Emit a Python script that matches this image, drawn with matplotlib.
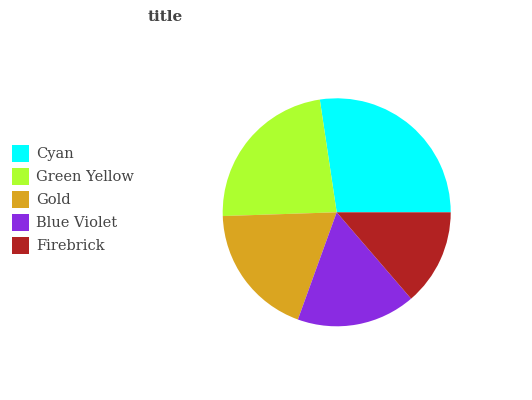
import matplotlib
matplotlib.use("Agg")
import matplotlib.pyplot as plt
from matplotlib.patches import Patch

# slice data
labels = ["Cyan", "Green Yellow", "Gold", "Blue Violet", "Firebrick"]
values = [26, 22, 18, 16, 13]
colors = ["#00ffff", "#adff2f", "#daa520", "#8a2be2", "#b22222"]

plt.rcParams['font.family'] = ['DejaVu Serif']

fig = plt.figure(figsize=(5.32, 4.0), dpi=100)
ax = fig.add_axes([336.7/532 - 114/532, 1 - (212.3 + 114)/400, 228/532, 228/400])
ax.pie(values, colors=colors, startangle=0, counterclock=True,
       wedgeprops=dict(linewidth=0))
ax.set_aspect('equal')
ax.set_xlim(-1, 1)
ax.set_ylim(-1, 1)

fig.text(165/532, 1 - 17/400, "title", ha='center', va='center',
         fontsize=11, fontweight='bold', color='#444444')

handles = [Patch(facecolor=c, edgecolor='none') for c in colors]
fig.legend(handles, labels, loc='upper left', bbox_to_anchor=(12/532, 1 - 145/400),
           frameon=False, fontsize=10.5, labelcolor='#444444',
           handlelength=1.166, handleheight=1.416, handletextpad=0.48,
           labelspacing=0.41, borderpad=0, borderaxespad=0)

fig.savefig("out.png", dpi=100)
